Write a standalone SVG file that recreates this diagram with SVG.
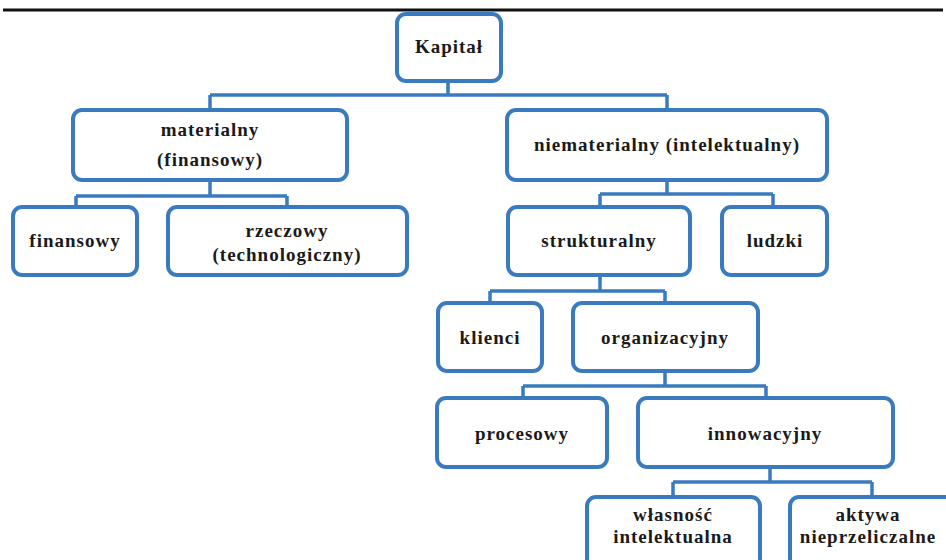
<svg xmlns="http://www.w3.org/2000/svg" width="946" height="560" viewBox="0 0 946 560">
<style>
.box{fill:#ffffff;stroke:#3a7bbf;stroke-width:4}
.con{fill:none;stroke:#3a7bbf;stroke-width:3.5}
text{font-family:"Liberation Serif","Times New Roman",serif;font-size:19px;font-weight:bold;fill:#1a1a1a;text-anchor:middle;letter-spacing:1px}
</style>
<rect width="946" height="560" fill="#ffffff"/>
<line x1="3" y1="10" x2="943" y2="10" stroke="#111111" stroke-width="3"/>
<g id="connectors">
<path class="con" d="M448 81 V95 M210 95 H667 M210 95 V110 M667 95 V110"/>
<path class="con" d="M210 180 V196 M76 196 H287 M76 196 V207 M287 196 V207"/>
<path class="con" d="M667 180 V194 M600 194 H773 M600 194 V207 M773 194 V207"/>
<path class="con" d="M600 275 V291 M490 291 H665 M490 291 V303 M665 291 V303"/>
<path class="con" d="M665 371 V386 M523 386 H766 M523 386 V398 M766 386 V398"/>
<path class="con" d="M770 467 V482 M673 482 H872 M673 482 V497 M872 482 V497"/>
</g>
<g id="kapital"><rect class="box" x="397" y="14" width="104" height="67" rx="9"/><text x="449" y="53">Kapitał</text></g>
<g id="materialny"><rect class="box" x="73" y="110" width="274" height="70" rx="9"/><text x="210" y="136">materialny</text><text x="210" y="166">(finansowy)</text></g>
<g id="niematerialny"><rect class="box" x="507" y="110" width="320" height="70" rx="9"/><text x="667" y="151">niematerialny (intelektualny)</text></g>
<g id="finansowy"><rect class="box" x="13" y="207" width="124" height="68" rx="9"/><text x="75" y="247">finansowy</text></g>
<g id="rzeczowy"><rect class="box" x="168" y="207" width="239" height="68" rx="9"/><text x="287" y="237">rzeczowy</text><text x="287" y="261">(technologiczny)</text></g>
<g id="strukturalny"><rect class="box" x="508" y="207" width="182" height="68" rx="9"/><text x="599" y="247">strukturalny</text></g>
<g id="ludzki"><rect class="box" x="722" y="207" width="105" height="68" rx="9"/><text x="775" y="247">ludzki</text></g>
<g id="klienci"><rect class="box" x="438" y="303" width="104" height="68" rx="9"/><text x="490" y="344">klienci</text></g>
<g id="organizacyjny"><rect class="box" x="573" y="303" width="185" height="68" rx="9"/><text x="665" y="344">organizacyjny</text></g>
<g id="procesowy"><rect class="box" x="437" y="398" width="170" height="69" rx="9"/><text x="522" y="440">procesowy</text></g>
<g id="innowacyjny"><rect class="box" x="638" y="398" width="255" height="69" rx="9"/><text x="765" y="440">innowacyjny</text></g>
<g id="wlasnosc"><rect class="box" x="587" y="497" width="173" height="80" rx="9"/><text x="673" y="521">własność</text><text x="673" y="543">intelektualna</text></g>
<g id="aktywa"><rect class="box" x="790" y="497" width="170" height="80" rx="9"/><text x="868" y="521">aktywa</text><text x="868" y="543">nieprzeliczalne</text></g>
</svg>
